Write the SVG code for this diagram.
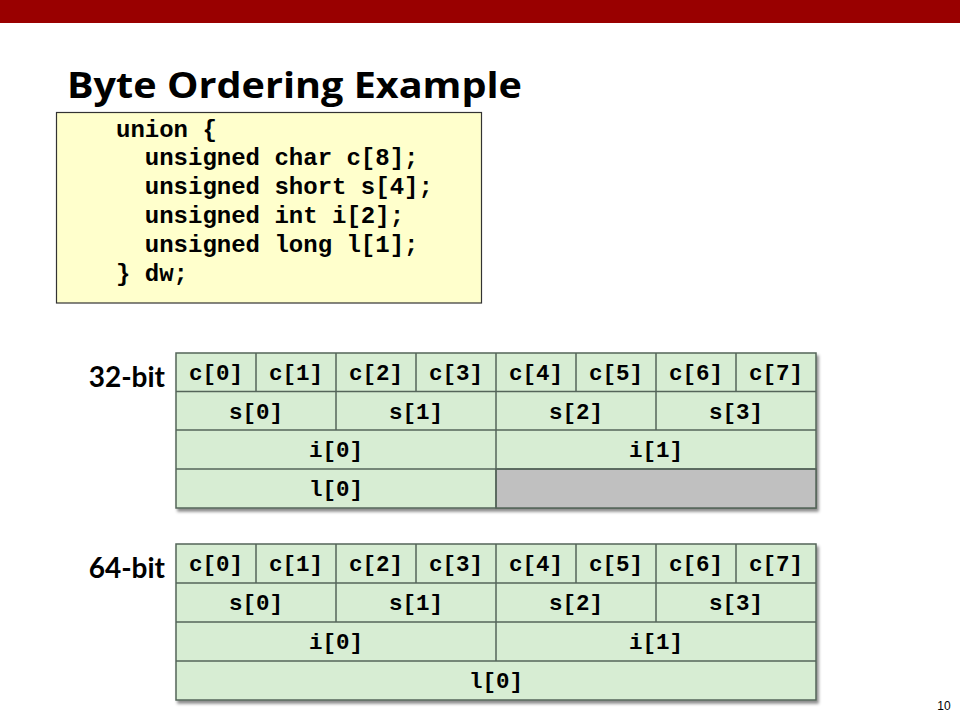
<svg xmlns="http://www.w3.org/2000/svg" width="960" height="720" viewBox="0 0 960 720">
  <defs>
    <filter id="shadow" x="-5%" y="-5%" width="112%" height="120%">
      <feDropShadow dx="2" dy="3" stdDeviation="1.5" flood-color="#000" flood-opacity="0.45"/>
    </filter>
  </defs>
  <style>
    .title { font-family: "Open Sans", "Lato", "Liberation Sans", sans-serif; font-weight: bold; fill: #000; }
    .code { font-family: "Liberation Mono", "DejaVu Sans Mono", monospace; font-weight: bold; font-size: 24px; fill: #000; }
    .cell { font-family: "Liberation Mono", "DejaVu Sans Mono", monospace; font-weight: bold; font-size: 22.5px; fill: #000; text-anchor: middle; }
    .lbl { font-family: "Lato", "Open Sans", "Liberation Sans", sans-serif; font-weight: bold; font-size: 28px; fill: #000; }
    .frame { fill: #D7EDD3; stroke: #55655A; stroke-width: 1.5; }
    .line { stroke: #55655A; stroke-width: 1.5; fill: none; }
    .pad { fill: #C0C0C0; stroke: #55655A; stroke-width: 1.5; }
  </style>

  <rect id="topbar" x="0" y="0" width="960" height="23" fill="#990000"/>

  <text id="title" class="title" x="67" y="98" font-size="35" textLength="455" lengthAdjust="spacingAndGlyphs">Byte Ordering Example</text>

  <g id="code-box">
    <rect x="56.5" y="112.5" width="425" height="190.5" fill="#FFFFCC" stroke="#333" stroke-width="1.2"/>
    <text class="code" x="116" y="136.5">union {</text>
    <text class="code" x="144.8" y="165.3">unsigned char c[8];</text>
    <text class="code" x="144.8" y="194.1">unsigned short s[4];</text>
    <text class="code" x="144.8" y="222.9">unsigned int i[2];</text>
    <text class="code" x="144.8" y="251.7">unsigned long l[1];</text>
    <text class="code" x="116" y="280.5">} dw;</text>
  </g>

  <text id="label-32" class="lbl" x="165" y="387" text-anchor="end">32-bit</text>
  <text id="label-64" class="lbl" x="165" y="578" text-anchor="end">64-bit</text>

  <g id="table-32">
    <rect class="frame" x="176" y="353" width="640" height="155" filter="url(#shadow)"/>
    <rect class="pad" x="496" y="469" width="320" height="39"/>
    <g class="line-group">
      <line class="line" x1="176" y1="391.5" x2="816" y2="391.5"/>
      <line class="line" x1="176" y1="430" x2="816" y2="430"/>
      <line class="line" x1="176" y1="469" x2="816" y2="469"/>
      <line class="line" x1="256" y1="353" x2="256" y2="391.5"/>
      <line class="line" x1="416" y1="353" x2="416" y2="391.5"/>
      <line class="line" x1="576" y1="353" x2="576" y2="391.5"/>
      <line class="line" x1="736" y1="353" x2="736" y2="391.5"/>
      <line class="line" x1="336" y1="353" x2="336" y2="430"/>
      <line class="line" x1="656" y1="353" x2="656" y2="430"/>
      <line class="line" x1="496" y1="353" x2="496" y2="508"/>
    </g>
    <text class="cell" x="216" y="379.5">c[0]</text>
    <text class="cell" x="296" y="379.5">c[1]</text>
    <text class="cell" x="376" y="379.5">c[2]</text>
    <text class="cell" x="456" y="379.5">c[3]</text>
    <text class="cell" x="536" y="379.5">c[4]</text>
    <text class="cell" x="616" y="379.5">c[5]</text>
    <text class="cell" x="696" y="379.5">c[6]</text>
    <text class="cell" x="776" y="379.5">c[7]</text>
    <text class="cell" x="256" y="418.5">s[0]</text>
    <text class="cell" x="416" y="418.5">s[1]</text>
    <text class="cell" x="576" y="418.5">s[2]</text>
    <text class="cell" x="736" y="418.5">s[3]</text>
    <text class="cell" x="336" y="457">i[0]</text>
    <text class="cell" x="656" y="457">i[1]</text>
    <text class="cell" x="336" y="496">l[0]</text>
  </g>

  <g id="table-64">
    <rect class="frame" x="176" y="544" width="640" height="156" filter="url(#shadow)"/>
    <g class="line-group">
      <line class="line" x1="176" y1="583" x2="816" y2="583"/>
      <line class="line" x1="176" y1="622" x2="816" y2="622"/>
      <line class="line" x1="176" y1="661" x2="816" y2="661"/>
      <line class="line" x1="256" y1="544" x2="256" y2="583"/>
      <line class="line" x1="416" y1="544" x2="416" y2="583"/>
      <line class="line" x1="576" y1="544" x2="576" y2="583"/>
      <line class="line" x1="736" y1="544" x2="736" y2="583"/>
      <line class="line" x1="336" y1="544" x2="336" y2="622"/>
      <line class="line" x1="656" y1="544" x2="656" y2="622"/>
      <line class="line" x1="496" y1="544" x2="496" y2="661"/>
    </g>
    <text class="cell" x="216" y="571">c[0]</text>
    <text class="cell" x="296" y="571">c[1]</text>
    <text class="cell" x="376" y="571">c[2]</text>
    <text class="cell" x="456" y="571">c[3]</text>
    <text class="cell" x="536" y="571">c[4]</text>
    <text class="cell" x="616" y="571">c[5]</text>
    <text class="cell" x="696" y="571">c[6]</text>
    <text class="cell" x="776" y="571">c[7]</text>
    <text class="cell" x="256" y="610">s[0]</text>
    <text class="cell" x="416" y="610">s[1]</text>
    <text class="cell" x="576" y="610">s[2]</text>
    <text class="cell" x="736" y="610">s[3]</text>
    <text class="cell" x="336" y="649">i[0]</text>
    <text class="cell" x="656" y="649">i[1]</text>
    <text class="cell" x="496" y="688">l[0]</text>
  </g>

  <text id="page-number" x="944" y="710" text-anchor="middle" font-family="Liberation Sans, Arial, sans-serif" font-size="12" fill="#000">10</text>
</svg>
